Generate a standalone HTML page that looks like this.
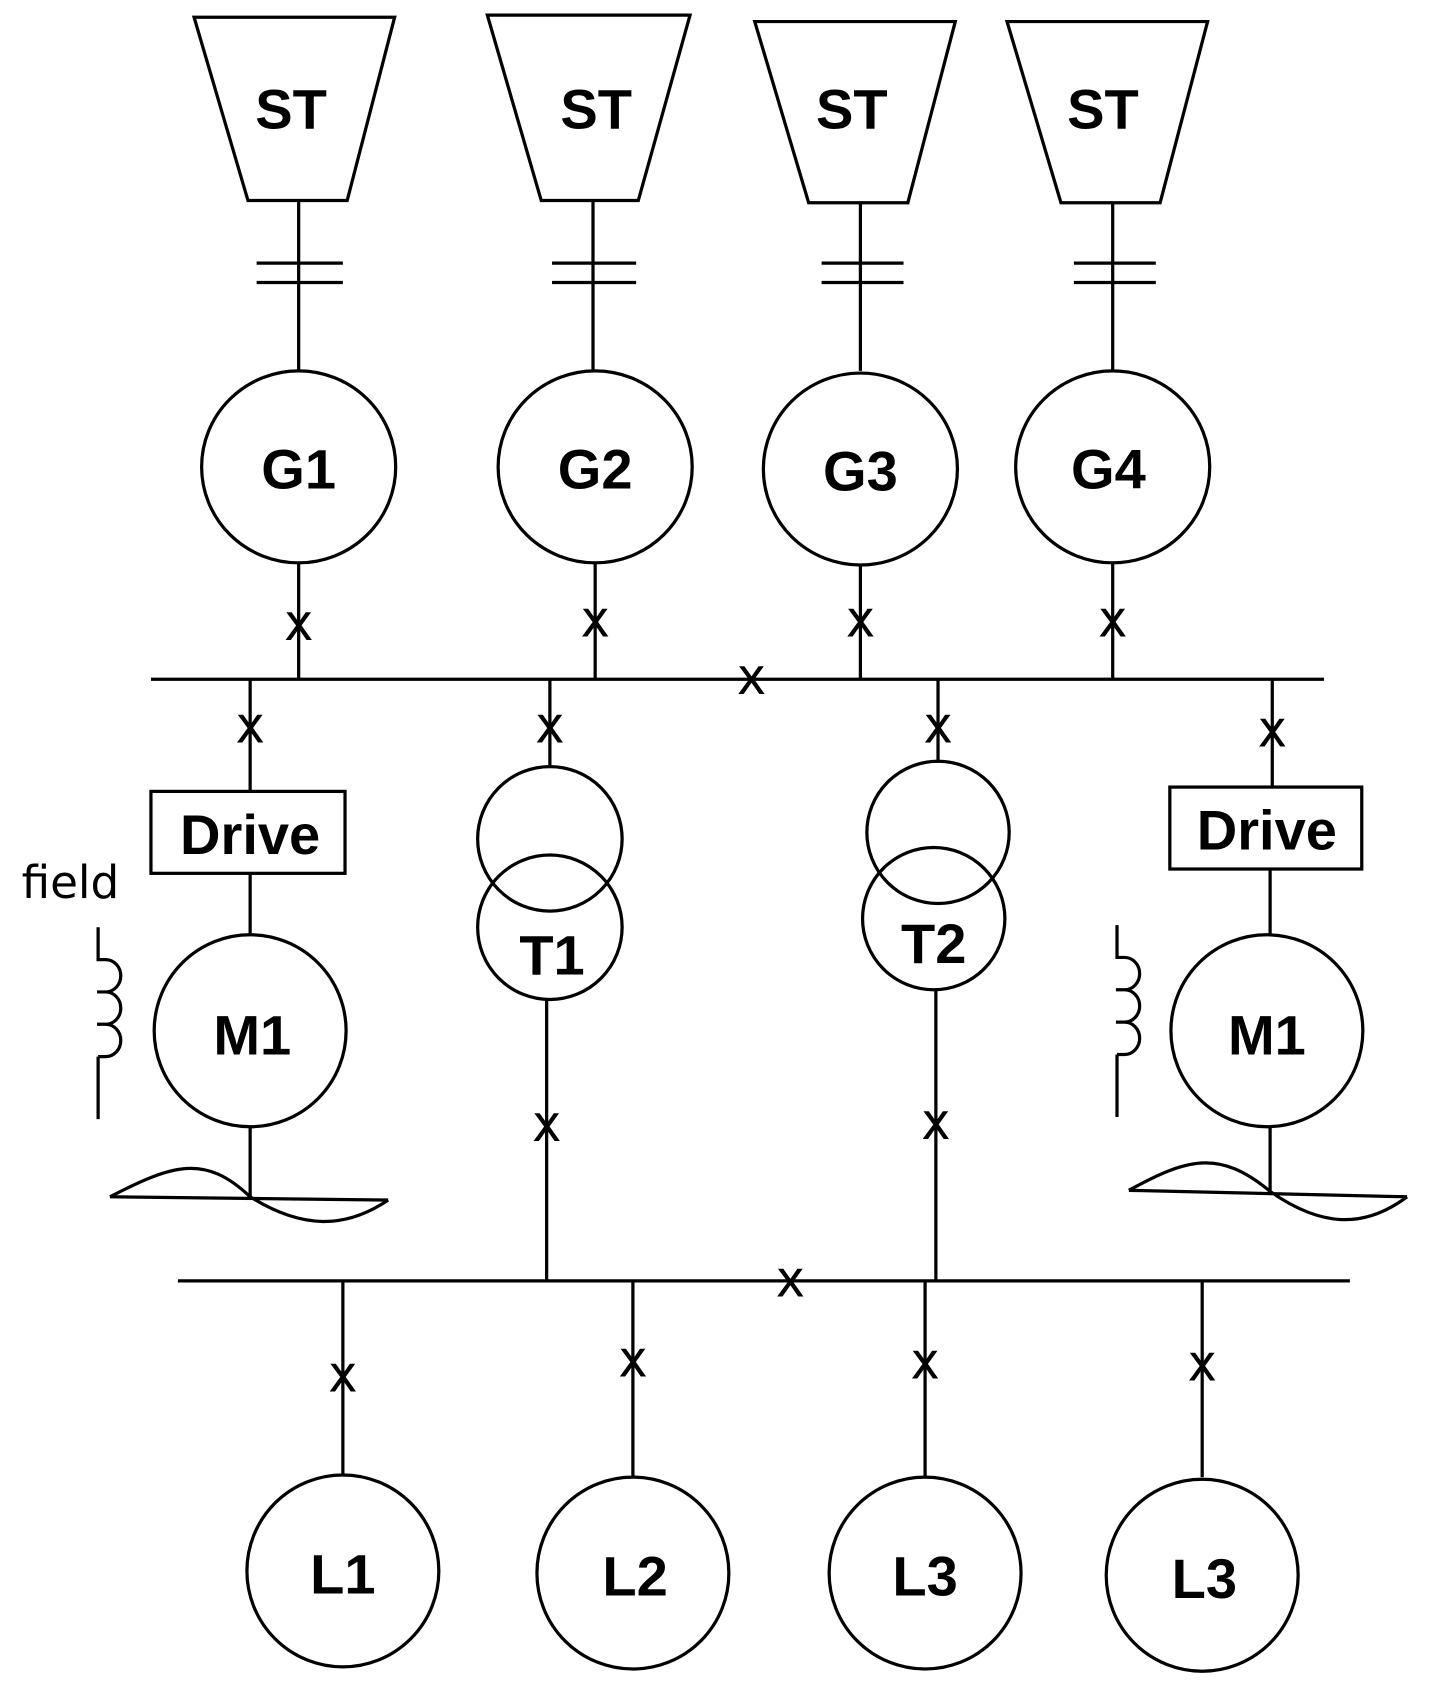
<!DOCTYPE html>
<html><head><meta charset="utf-8"><style>html,body{margin:0;padding:0;background:#fff}svg{display:block}</style></head><body>
<svg width="1434" height="1696" viewBox="0 0 1330 1573" preserveAspectRatio="none" xmlns="http://www.w3.org/2000/svg">
<g fill="none" stroke="#000" stroke-width="3">
<polygon points="180,16 366,16 322,186 230,186"/>
<polygon points="452,14 640,14 592,186 502,186"/>
<polygon points="700,20 886,20 842,188 750,188"/>
<polygon points="934,20 1120,20 1076,188 984,188"/>
<line x1="277" y1="186" x2="277" y2="344"/><line x1="238" y1="244" x2="318" y2="244"/><line x1="238" y1="262" x2="318" y2="262"/>
<line x1="550" y1="186" x2="550" y2="344"/><line x1="512" y1="244" x2="590" y2="244"/><line x1="512" y1="262" x2="590" y2="262"/>
<line x1="798" y1="188" x2="798" y2="344"/><line x1="762" y1="244" x2="838" y2="244"/><line x1="762" y1="262" x2="838" y2="262"/>
<line x1="1032" y1="188" x2="1032" y2="344"/><line x1="996" y1="244" x2="1072" y2="244"/><line x1="996" y1="262" x2="1072" y2="262"/>
<ellipse cx="277" cy="433" rx="90" ry="89"/>
<ellipse cx="552" cy="433" rx="90" ry="89"/>
<ellipse cx="798" cy="435" rx="90" ry="89"/>
<ellipse cx="1032" cy="433" rx="90" ry="89"/>
<line x1="277" y1="522" x2="277" y2="630"/><line x1="552" y1="522" x2="552" y2="630"/><line x1="798" y1="524" x2="798" y2="630"/><line x1="1032" y1="522" x2="1032" y2="630"/>
<line x1="140" y1="630" x2="1228" y2="630"/>
<line x1="232" y1="630" x2="232" y2="734"/><rect x="140" y="734" width="180" height="76"/><line x1="232" y1="810" x2="232" y2="866"/>
<ellipse cx="232" cy="956" rx="89" ry="89"/><line x1="232" y1="1045" x2="232" y2="1113"/>
<line x1="510" y1="630" x2="510" y2="712"/><circle cx="510" cy="778" r="67"/><circle cx="510" cy="860" r="67"/><line x1="507" y1="927" x2="507" y2="1188"/>
<line x1="870" y1="630" x2="870" y2="706"/><circle cx="870" cy="772" r="66"/><circle cx="866" cy="852" r="66"/><line x1="868" y1="918" x2="868" y2="1188"/>
<line x1="1180" y1="630" x2="1180" y2="730"/><rect x="1085" y="730" width="178" height="76"/><line x1="1178" y1="806" x2="1178" y2="866"/>
<ellipse cx="1175" cy="956" rx="89" ry="89"/><line x1="1178" y1="1045" x2="1178" y2="1105"/>
<path d="M91,860 V890 H98 a14,15 0 0 1 0,30 a14,15 0 0 1 0,30 a14,15 0 0 1 0,30 a14,15 0 0 1 0,0 M98,980 H91 M91,980 V1038 M90,920 h8 M90,950 h8"/>
<path d="M1036,858 V888 H1043 a14,15 0 0 1 0,30 a14,15 0 0 1 0,30 a14,15 0 0 1 0,30 M1043,978 H1036 M1036,978 V1036 M1035,918 h8 M1035,948 h8"/>
<path d="M102,1110 L360,1113 M102,1110 C160,1080 190,1070 232,1110 C280,1140 320,1140 360,1113"/>
<path d="M1047,1104 L1305,1110 M1047,1104 C1100,1075 1130,1065 1178,1105 C1225,1138 1265,1140 1305,1110"/>
<line x1="165" y1="1188" x2="1252" y2="1188"/>
<line x1="318" y1="1188" x2="318" y2="1368"/><line x1="587" y1="1188" x2="587" y2="1370"/><line x1="858" y1="1188" x2="858" y2="1370"/><line x1="1115" y1="1188" x2="1115" y2="1370"/>
<ellipse cx="318" cy="1457" rx="89" ry="89"/><ellipse cx="587" cy="1459" rx="89" ry="89"/><ellipse cx="858" cy="1459" rx="89" ry="89"/><ellipse cx="1115" cy="1461" rx="89" ry="89"/>
</g>
<g font-family="Liberation Sans, sans-serif" font-size="36" text-anchor="middle" fill="#000" stroke="#000" stroke-width="1">
<text x="277" y="593">X</text><text x="552" y="590">X</text><text x="798" y="590">X</text><text x="1032" y="590">X</text>
<text x="697" y="643">X</text>
<text x="232" y="688">X</text><text x="510" y="688">X</text><text x="870" y="688">X</text><text x="1180" y="692">X</text>
<text x="507" y="1058">X</text><text x="868" y="1056">X</text>
<text x="733" y="1202">X</text>
<text x="318" y="1290">X</text><text x="587" y="1276">X</text><text x="858" y="1278">X</text><text x="1115" y="1280">X</text>
</g>
<g font-family="Liberation Sans, sans-serif" font-weight="bold" font-size="52" text-anchor="middle" fill="#000">
<text x="270" y="119">ST</text><text x="553" y="119">ST</text><text x="790" y="119">ST</text><text x="1023" y="119">ST</text>
<text x="277" y="453">G1</text><text x="552" y="453">G2</text><text x="798" y="455">G3</text><text x="1028" y="453">G4</text>
<text x="232" y="792">Drive</text><text x="1175" y="788">Drive</text>
<text x="234" y="978">M1</text><text x="1175" y="978">M1</text>
<text x="512" y="904">T1</text><text x="866" y="893">T2</text>
<text x="318" y="1478">L1</text><text x="589" y="1480">L2</text><text x="858" y="1480">L3</text><text x="1117" y="1482">L3</text>
</g>
<text x="20" y="833" font-family="DejaVu Sans, sans-serif" font-size="42" fill="#000">field</text>
</svg>
</body></html>
